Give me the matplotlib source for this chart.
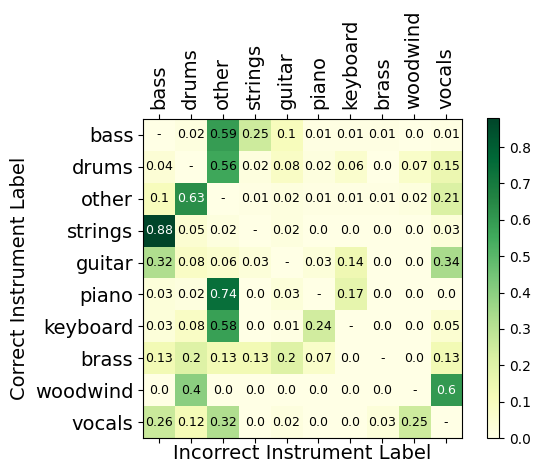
import numpy as np
import matplotlib
matplotlib.use("Agg")
import matplotlib.pyplot as plt

labels = ["bass", "drums", "other", "strings", "guitar", "piano", "keyboard", "brass", "woodwind", "vocals"]

# rows: correct label, cols: incorrect label; None = diagonal
rows = [
    [None, 0.02, 0.59, 0.25, 0.1, 0.01, 0.01, 0.01, 0.0, 0.01],
    [0.04, None, 0.56, 0.02, 0.08, 0.02, 0.06, 0.0, 0.07, 0.15],
    [0.1, 0.63, None, 0.01, 0.02, 0.01, 0.01, 0.01, 0.02, 0.21],
    [0.88, 0.05, 0.02, None, 0.02, 0.0, 0.0, 0.0, 0.0, 0.03],
    [0.32, 0.08, 0.06, 0.03, None, 0.03, 0.14, 0.0, 0.0, 0.34],
    [0.03, 0.02, 0.74, 0.0, 0.03, None, 0.17, 0.0, 0.0, 0.0],
    [0.03, 0.08, 0.58, 0.0, 0.01, 0.24, None, 0.0, 0.0, 0.05],
    [0.13, 0.2, 0.13, 0.13, 0.2, 0.07, 0.0, None, 0.0, 0.13],
    [0.0, 0.4, 0.0, 0.0, 0.0, 0.0, 0.0, 0.0, None, 0.6],
    [0.26, 0.12, 0.32, 0.0, 0.02, 0.0, 0.0, 0.03, 0.25, None],
]

data = np.array([[0.0 if v is None else v for v in r] for r in rows])

fig = plt.figure(figsize=(5.4, 4.63), dpi=100)
ax = fig.add_axes([143/540, 1-438/463, 319/540, 319/463])
cax = fig.add_axes([487/540, 1-438/463, 12/540, 320/463])

im = ax.imshow(data, cmap="YlGn", vmin=0, vmax=data.max(), aspect="auto")
cb = fig.colorbar(im, cax=cax)
cb.ax.tick_params(labelsize=10)

n = len(labels)
ax.set_xticks(range(n))
ax.set_yticks(range(n))
ax.set_xticklabels(labels, rotation=90, fontsize=14)
ax.set_yticklabels(labels, fontsize=14)
ax.tick_params(axis="x", top=True, bottom=True, labeltop=True, labelbottom=False)
ax.set_xlabel("Incorrect Instrument Label", fontsize=14, labelpad=1)
ax.set_ylabel("Correct Instrument Label", fontsize=14)

for i in range(n):
    for j in range(n):
        v = rows[i][j]
        if v is None:
            txt, col = "-", "black"
        else:
            txt = str(v)
            col = "white" if v >= 0.6 else "black"
        ax.text(j, i, txt, ha="center", va="center", fontsize=9, color=col)

fig.savefig("out.png", dpi=100)
